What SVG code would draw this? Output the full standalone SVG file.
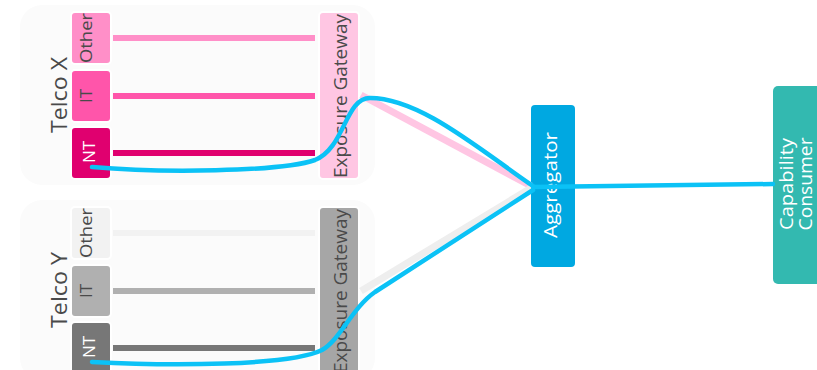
<svg xmlns="http://www.w3.org/2000/svg" width="817" height="370" viewBox="0 0 817 370">
<style>
  text { font-family: "Open Sans", "Noto Sans", "DejaVu Sans", sans-serif; text-anchor: middle; font-weight: 500; }
  .bg { fill: #fbfbfb; }
  .box { stroke: #ffffff; stroke-width: 2; }
  .dark { fill: #4a4a4a; }
  .white { fill: #ffffff; }
  .lane { stroke-width: 6; fill: none; }
  .flow { stroke: #0bc2f6; stroke-width: 4.5; fill: none; stroke-linecap: round; stroke-linejoin: round; }
  .faint { stroke-width: 7; fill: none; }
</style>
<rect width="817" height="370" fill="#ffffff"/>

<g id="telco-x">
  <rect class="bg" x="20" y="5" width="355" height="180" rx="22"/>
  <text class="dark" font-size="21" transform="translate(67,95) rotate(-90)" textLength="76" lengthAdjust="spacingAndGlyphs">Telco X</text>
</g>
<g id="telco-x-other">
  <rect class="box" x="71" y="12" width="40" height="52" rx="4" fill="#ff8fc8"/>
  <text class="dark" font-size="17" transform="translate(92,38) rotate(-90)" textLength="50" lengthAdjust="spacingAndGlyphs">Other</text>
</g>
<g id="telco-x-it">
  <rect class="box" x="71" y="70" width="40" height="52" rx="4" fill="#ff55aa"/>
  <text class="dark" font-size="17" transform="translate(92,96) rotate(-90)">IT</text>
</g>
<g id="telco-x-nt">
  <rect class="box" x="71" y="127" width="40" height="52" rx="4" fill="#e0006f"/>
  <text class="white" font-size="17" transform="translate(95,152) rotate(-90)">NT</text>
</g>
<g id="telco-x-gateway">
  <rect class="box" x="319" y="12" width="40" height="167" rx="4" fill="#ffc6e3"/>
  <text class="dark" font-size="18" transform="translate(347,96) rotate(-90)" textLength="164" lengthAdjust="spacingAndGlyphs">Exposure Gateway</text>
</g>

<g id="telco-y">
  <rect class="bg" x="20" y="200" width="355" height="180" rx="22"/>
  <text class="dark" font-size="21" transform="translate(67,290) rotate(-90)" textLength="76" lengthAdjust="spacingAndGlyphs">Telco Y</text>
</g>
<g id="telco-y-other">
  <rect class="box" x="71" y="207" width="40" height="52" rx="4" fill="#f2f2f2"/>
  <text class="dark" font-size="17" transform="translate(92,233) rotate(-90)" textLength="50" lengthAdjust="spacingAndGlyphs">Other</text>
</g>
<g id="telco-y-it">
  <rect class="box" x="71" y="265" width="40" height="52" rx="4" fill="#b0b0b0"/>
  <text class="dark" font-size="17" transform="translate(92,291) rotate(-90)">IT</text>
</g>
<g id="telco-y-nt">
  <rect class="box" x="71" y="322" width="40" height="52" rx="4" fill="#777777"/>
  <text class="white" font-size="17" transform="translate(95,347) rotate(-90)">NT</text>
</g>
<g id="telco-y-gateway">
  <rect class="box" x="319" y="207" width="40" height="167" rx="4" fill="#a6a6a6"/>
  <text class="dark" font-size="18" transform="translate(347,291) rotate(-90)" textLength="164" lengthAdjust="spacingAndGlyphs">Exposure Gateway</text>
</g>

<g id="aggregator">
  <rect x="531" y="105" width="44" height="162" rx="4" fill="#00a8e1"/>
  <text class="white" font-size="18" transform="translate(557,185) rotate(-90)" textLength="106" lengthAdjust="spacingAndGlyphs">Aggregator</text>
</g>

<g id="capability-consumer">
  <rect x="773" y="86" width="50" height="198" rx="5" fill="#33b9b0"/>
  <text class="white" font-size="18" transform="translate(793,184) rotate(-90)" textLength="92" lengthAdjust="spacingAndGlyphs">Capability</text>
  <text class="white" font-size="18" transform="translate(812,184) rotate(-90)" textLength="93" lengthAdjust="spacingAndGlyphs">Consumer</text>
</g>

<g id="connectors">
  <line class="lane" x1="113" y1="38" x2="315" y2="38" stroke="#ff8fc8"/>
  <line class="lane" x1="113" y1="96" x2="315" y2="96" stroke="#ff55aa"/>
  <line class="lane" x1="113" y1="153" x2="315" y2="153" stroke="#e0006f"/>
  <line class="lane" x1="113" y1="233" x2="315" y2="233" stroke="#f2f2f2"/>
  <line class="lane" x1="113" y1="291" x2="315" y2="291" stroke="#b0b0b0"/>
  <line class="lane" x1="113" y1="348" x2="315" y2="348" stroke="#777777"/>
  <line class="faint" x1="361" y1="95" x2="531" y2="186" stroke="#ffc6e3"/>
  <line class="faint" x1="361" y1="291" x2="531" y2="188" stroke="#eeeeee"/>
  <path class="flow" d="M92,167 C160,173 280,172 315,160 C345,148 345,98 370,98 C420,98 480,150 533,186"/>
  <path class="flow" d="M92,362 C170,366 290,366 322,350 C340,340 352,308 375,292 L533,190"/>
  <path class="flow" d="M533,187 L773,184"/>
</g>
</svg>
